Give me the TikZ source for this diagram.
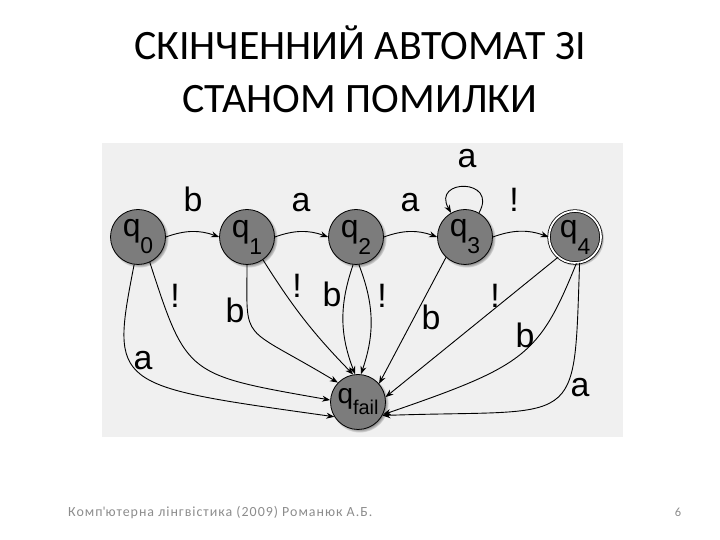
\documentclass[tikz,border=0pt]{standalone}
\usepackage{fontspec}
\setmainfont{Carlito}
\newfontfamily\arialfont{Liberation Sans}
\newfontfamily\footfont[LetterSpace=7]{Carlito}
\usetikzlibrary{arrows.meta,shadows}
\definecolor{scanbg}{RGB}{240,240,240}
\definecolor{stategray}{RGB}{124,124,124}
\definecolor{footgray}{RGB}{140,140,140}
\newcommand{\qlab}[1]{{\fontsize{32}{32}\selectfont q}\raisebox{-17bp}{\fontsize{23}{23}\selectfont #1}}

\begin{document}
\begin{tikzpicture}[x=1bp, y=1bp,
    st/.style={circle, draw=black, line width=0.8bp, fill=stategray, minimum size=55bp, inner sep=0pt,
      font=\arialfont, circular drop shadow={shadow xshift=1.5bp, shadow yshift=-1.5bp, shadow scale=1.06}},
    stfinal/.style={st, minimum size=52bp, double=white, double distance=1.8bp},
    lbl/.style={font=\arialfont\fontsize{34}{34}\selectfont, anchor=base, inner sep=0pt},
    trans/.style={-{Stealth[length=8bp,width=6bp]}, line width=0.9bp}]
    \useasboundingbox (0,0) rectangle (720,540);

    % Titel
    \node[anchor=base, font=\fontsize{42}{53}\selectfont] (title1) at (360,480) {СКІНЧЕННИЙ АВТОМАТ ЗІ};
    \node[anchor=base, font=\fontsize{42}{53}\selectfont] (title2) at (360,427) {СТАНОМ ПОМИЛКИ};

    % Skan
    \fill[scanbg] (102,103) rectangle (623,397);

    % Stany
    \node[st] (q0) at (138,303) {\qlab{0}};
    \node[st] (q1) at (247,303) {\qlab{1}};
    \node[st] (q2) at (356,303) {\qlab{2}};
    \node[st] (q3) at (465,303) {\qlab{3}};
    \node[stfinal] (q4) at (575,303) {\qlab{4}};
    \node[st] (qf) at (358,138) {{\fontsize{28}{28}\selectfont q}\raisebox{-11bp}{\fontsize{20}{20}\selectfont fail}};

    % Gorny lancuh
    \draw[trans] (q0.east) to[out=20,in=160] (q1.west);
    \node[lbl] (l01) at (193,328) {b};
    \draw[trans] (q1.east) to[out=20,in=160] (q2.west);
    \node[lbl] (l12) at (301,328) {a};
    \draw[trans] (q2.east) to[out=20,in=160] (q3.west);
    \node[lbl] (l23) at (410,328) {a};
    \draw[trans] (q3.east) to[out=20,in=160] (q4.west);
    \node[lbl] (l34) at (514,328) {!};
    \draw[trans] (q3.60) .. controls +(60:40) and +(120:40) .. (q3.120);
    \node[lbl] (l33) at (467,372) {a};

    % Do q_fail
    \draw[trans] (q0.-98) .. controls +(-101:125) and +(172:225) .. (qf.212);
    \node[lbl] (l0a) at (143,170) {a};
    \draw[trans] (q0.-65) .. controls +(-72:120) and +(170:146) .. (qf.176);
    \node[lbl] (l0x) at (175,232) {!};
    \draw[trans] (q1.-90) .. controls +(-90:80) and +(149:115) .. (qf.136);
    \node[lbl] (l1b) at (235,217) {b};
    \draw[trans] (q1.-55) to[bend right=6] (qf.100);
    \node[lbl] (l1x) at (297,242) {!};
    \draw[trans] (q2.-96) to[bend right=20] (qf.96);
    \node[lbl] (l2b) at (332,233) {b};
    \draw[trans] (q2.-84) to[bend left=20] (qf.84);
    \node[lbl] (l2x) at (382,232) {!};
    \draw[trans] (q3.227) -- (qf.41);
    \node[lbl] (l3b) at (431,210) {b};
    \draw[trans] (q4.230) -- (qf.10);
    \node[lbl] (l4x) at (495,232) {!};
    \draw[trans] (q4.-87) .. controls +(-112:100) and +(19:150) .. (qf.-27);
    \node[lbl] (l4b) at (525,192) {b};
    \draw[trans] (q4.-80) .. controls +(-92:170) and +(2:200) .. (qf.-29);
    \node[lbl] (l4a) at (580,143) {a};

    % Stopka
    \node[anchor=base west, inner sep=0pt, text=footgray, font=\footfont\fontsize{14}{16}\selectfont] (foot) at (68,23) {Комп\textquotesingle ютерна лінгвістика (2009) Романюк А.Б.};
    \node[anchor=base, inner sep=0pt, text=footgray, font=\fontsize{12.5}{15}\selectfont] (pnum) at (678,23) {6};
\end{tikzpicture}
\end{document}
